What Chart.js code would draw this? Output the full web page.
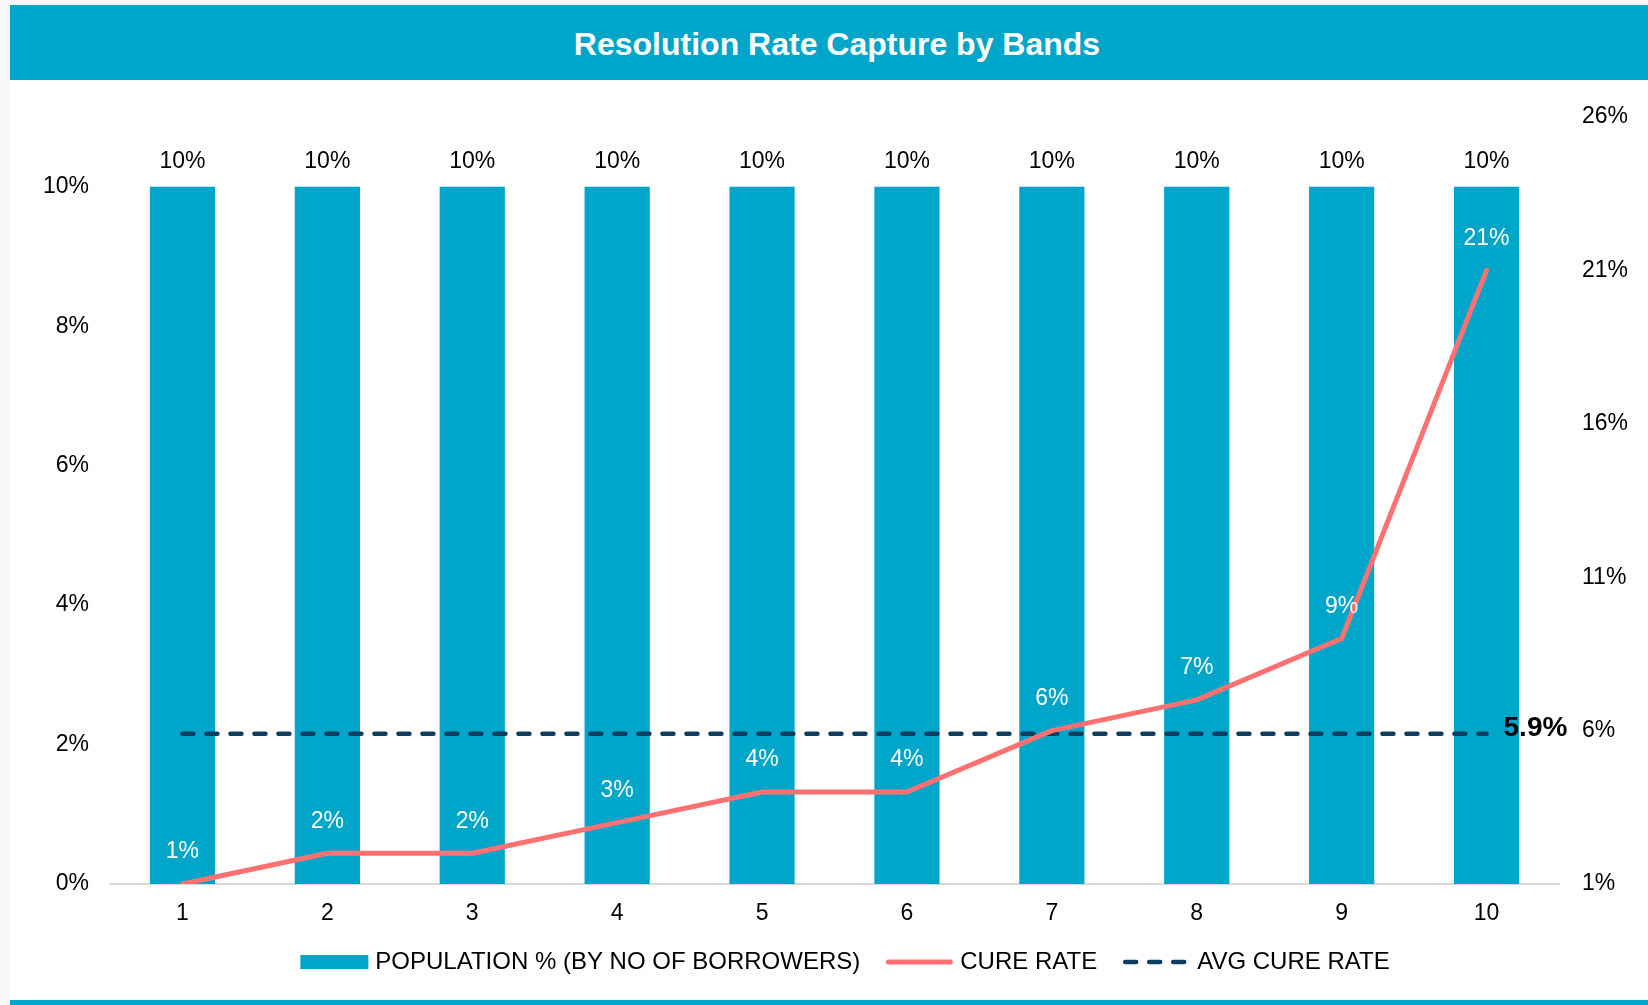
<!DOCTYPE html>
<html>
<head>
<meta charset="utf-8">
<title>Resolution Rate Capture by Bands</title>
<script src="https://cdn.jsdelivr.net/npm/chart.js@4.4.1/dist/chart.umd.min.js"></script>
<style>
    body {
        margin: 0;
        width: 1648px;
        height: 1005px;
        overflow: hidden;
        background: #f7f7f7;
        font-family: "Liberation Sans", Arial, sans-serif;
    }
    #painel {
        position: absolute;
        left: 10px;
        top: 5px;
        width: 1638px;
        height: 995px;
        background: #ffffff;
    }
    #titulo {
        position: absolute;
        left: 10px;
        top: 5px;
        width: 1638px;
        height: 75px;
        padding-left: 16px;
        box-sizing: border-box;
        background: #00a6ca;
        color: #ffffff;
        font-weight: bold;
        font-size: 32px;
        line-height: 79px;
        text-align: center;
    }
    #rodape {
        position: absolute;
        left: 10px;
        top: 1000px;
        width: 1638px;
        height: 5px;
        background: #00a6ca;
    }
    #area {
        position: absolute;
        left: 10px;
        top: 80px;
        width: 1638px;
        height: 920px;
    }
</style>
</head>
<body>
<div id="painel"></div>
<div id="titulo">Resolution Rate Capture by Bands</div>
<div id="area"><canvas id="barChart"></canvas></div>
<div id="rodape"></div>

<script>
// Dados do gráfico
var bandas = ['1', '2', '3', '4', '5', '6', '7', '8', '9', '10'];
var populacao = [10, 10, 10, 10, 10, 10, 10, 10, 10, 10]; // % de mutuários por banda
var taxaCura = [1, 2, 2, 3, 4, 4, 6, 7, 9, 21];           // taxa de cura (%)
var mediaCura = 5.9;                                       // média da taxa de cura (%)
var ticksEsquerda = [0, 2, 4, 6, 8, 10];
var ticksDireita = [1, 6, 11, 16, 21, 26];

var corBarra = '#00a6ca';
var corCura = '#ff7070';
var corMedia = '#0c3f5e';
var fonte = '"Liberation Sans", Arial, sans-serif';

window.onload = function () {
    graficoBandas();
}

// Rótulos de dados (barras, linha e média)
var rotulos = {
    id: 'rotulos',
    afterDatasetsDraw: function (chart) {
        var ctx = chart.ctx;
        ctx.save();
        ctx.textAlign = 'center';
        ctx.textBaseline = 'middle';
        ctx.font = '23px ' + fonte;

        ctx.fillStyle = '#000000';
        chart.getDatasetMeta(0).data.forEach(function (el, i) {
            ctx.fillText(populacao[i] + '%', el.x, el.y - 25);
        });

        ctx.fillStyle = '#ffffff';
        chart.getDatasetMeta(1).data.forEach(function (el, i) {
            ctx.fillText(taxaCura[i] + '%', el.x, el.y - 32);
        });

        var pts = chart.getDatasetMeta(2).data;
        var ult = pts[pts.length - 1];
        ctx.fillStyle = '#000000';
        ctx.font = 'bold 28px ' + fonte;
        ctx.textAlign = 'left';
        ctx.fillText(mediaCura.toFixed(1) + '%', ult.x + 17, ult.y - 5);
        ctx.restore();
    }
};

// Legenda desenhada à mão (para ter a linha tracejada)
var legenda = {
    id: 'legenda',
    afterDraw: function (chart) {
        var ctx = chart.ctx;
        var ds = chart.data.datasets;
        var simbolo = 68, gapTexto = 7, gapItem = 25;
        var y = 882;
        ctx.save();
        ctx.font = '24px ' + fonte;
        ctx.textBaseline = 'middle';
        ctx.textAlign = 'left';

        var total = 0;
        ds.forEach(function (d, i) {
            total += simbolo + gapTexto + ctx.measureText(d.label).width;
            if (i < ds.length - 1) total += gapItem;
        });
        var x = chart.width / 2 + 16 - total / 2;

        ds.forEach(function (d, i) {
            if (i === 0) {
                ctx.fillStyle = corBarra;
                ctx.fillRect(x, y - 7, simbolo, 14);
            } else {
                ctx.strokeStyle = d.borderColor;
                ctx.lineWidth = d.borderWidth;
                ctx.lineCap = 'round';
                ctx.setLineDash(d.borderDash || []);
                ctx.beginPath();
                ctx.moveTo(x + 3, y);
                ctx.lineTo(x + simbolo - 3, y);
                ctx.stroke();
                ctx.setLineDash([]);
            }
            x += simbolo + gapTexto;
            ctx.fillStyle = '#000000';
            ctx.fillText(d.label, x, y);
            x += ctx.measureText(d.label).width + gapItem;
        });
        ctx.restore();
    }
};

function graficoBandas() {
    Chart.defaults.font.family = fonte;
    var ctx = document.getElementById('barChart').getContext('2d');
    var myChart = new Chart(ctx, {
        type: 'bar',
        data: {
            labels: bandas,
            datasets: [
                {
                    label: 'POPULATION % (BY NO OF BORROWERS)',
                    data: populacao,
                    yAxisID: 'y',
                    backgroundColor: corBarra,
                    barPercentage: 0.45,
                    categoryPercentage: 1.0,
                    order: 3
                },
                {
                    type: 'line',
                    label: 'CURE RATE',
                    data: taxaCura,
                    yAxisID: 'y1',
                    borderColor: corCura,
                    borderWidth: 5,
                    borderCapStyle: 'round',
                    borderJoinStyle: 'round',
                    pointRadius: 0,
                    tension: 0,
                    order: 1
                },
                {
                    type: 'line',
                    label: 'AVG CURE RATE',
                    data: bandas.map(function () { return mediaCura; }),
                    yAxisID: 'y1',
                    borderColor: corMedia,
                    borderWidth: 4.5,
                    borderDash: [11, 13],
                    borderCapStyle: 'round',
                    pointRadius: 0,
                    order: 2
                }
            ]
        },
        options: {
            responsive: true,
            maintainAspectRatio: false,
            animation: false,
            layout: {
                padding: { top: 37, bottom: 66, left: 0, right: 0 }
            },
            plugins: {
                legend: { display: false },
                tooltip: { enabled: false }
            },
            scales: {
                x: {
                    offset: true,
                    grid: { display: false, drawTicks: false },
                    border: { display: true, color: '#d9d9d9', width: 2 },
                    ticks: {
                        color: '#000000',
                        padding: 16,
                        font: { size: 23 }
                    },
                    afterFit: function (s) { s.height = 50; }
                },
                y: {
                    position: 'left',
                    min: 0,
                    max: 11,
                    grid: { display: false, drawTicks: false },
                    border: { display: false },
                    ticks: {
                        color: '#000000',
                        padding: 21,
                        font: { size: 23 },
                        callback: function (v) { return v + '%'; }
                    },
                    afterBuildTicks: function (s) {
                        s.ticks = ticksEsquerda.map(function (v) { return { value: v }; });
                    },
                    afterFit: function (s) { s.width = 100; }
                },
                y1: {
                    position: 'right',
                    min: 1,
                    max: 26,
                    grid: { display: false, drawTicks: false },
                    border: { display: false },
                    ticks: {
                        color: '#000000',
                        padding: 23,
                        font: { size: 23 },
                        callback: function (v) { return v + '%'; }
                    },
                    afterBuildTicks: function (s) {
                        s.ticks = ticksDireita.map(function (v) { return { value: v }; });
                    },
                    afterFit: function (s) { s.width = 89; }
                }
            }
        },
        plugins: [rotulos, legenda]
    });
}
</script>
</body>
</html>
